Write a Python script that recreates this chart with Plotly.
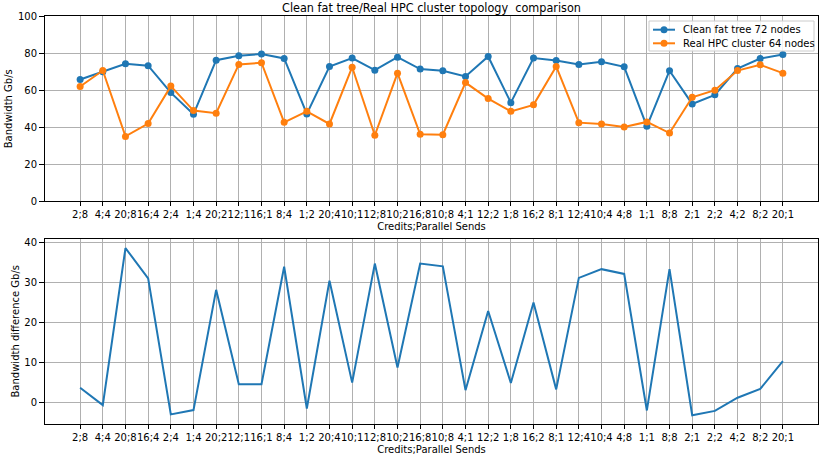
import plotly.graph_objects as go
from plotly.subplots import make_subplots

categories = ["2;8", "4;4", "20;8", "16;4", "2;4", "1;4", "20;2", "12;1", "16;1", "8;4",
              "1;2", "20;4", "10;1", "12;8", "10;2", "16;8", "10;8", "4;1", "12;2", "1;8",
              "16;2", "8;1", "12;4", "10;4", "4;8", "1;1", "8;8", "2;1", "2;2", "4;2",
              "8;2", "20;1"]

clean_fat_tree = [65.8, 69.9, 74.2, 73.2, 58.7, 47.0, 76.2, 78.6, 79.5, 77.1,
                  47.2, 72.8, 77.3, 70.8, 77.8, 71.4, 70.5, 67.4, 78.2, 53.3,
                  77.3, 76.0, 73.9, 75.3, 72.6, 40.5, 70.5, 52.6, 57.5, 71.7,
                  77.1, 79.3]

real_hpc = [62.0, 70.6, 35.1, 42.0, 62.2, 49.0, 47.6, 73.9, 74.8, 42.7,
            48.6, 41.8, 72.4, 35.7, 69.2, 36.2, 36.0, 64.1, 55.5, 48.6,
            52.1, 72.8, 42.5, 41.8, 40.2, 42.9, 36.9, 56.2, 60.0, 70.6,
            73.7, 69.2]

difference = [3.6, -0.75, 38.7, 31.1, -3.1, -2.0, 28.2, 4.5, 4.5, 34.0,
              -1.6, 30.5, 4.9, 34.8, 8.7, 34.8, 34.1, 3.0, 22.9, 4.8,
              25.0, 3.2, 31.2, 33.4, 32.2, -2.1, 33.4, -3.3, -2.2, 1.1,
              3.3, 10.3]

series_names = ["Clean fat tree 72 nodes", "Real HPC cluster 64 nodes"]
top_ticks = [0, 20, 40, 60, 80, 100]
bottom_ticks = [0, 10, 20, 30, 40]

BLUE = "#1f77b4"
ORANGE = "#ff7f0e"
FONT = "DejaVu Sans"

fig = make_subplots(rows=2, cols=1, vertical_spacing=0.0907)

xidx = list(range(len(categories)))

for vals, name, col in [(clean_fat_tree, series_names[0], BLUE),
                        (real_hpc, series_names[1], ORANGE)]:
    fig.add_trace(go.Scatter(x=xidx, y=vals, mode="lines+markers", name=name,
                             showlegend=False,
                             line=dict(color=col, width=2),
                             marker=dict(color=col, size=7, symbol="circle")),
                  row=1, col=1)
fig.add_trace(go.Scatter(x=xidx, y=difference, mode="lines",
                         showlegend=False,
                         line=dict(color=BLUE, width=2)),
              row=2, col=1)

xcommon = dict(tickmode="array", tickvals=xidx, ticktext=categories,
               range=[-1.55, len(categories) - 1 + 1.55], tickangle=0,
               automargin=False,
               showgrid=True, gridcolor="#b0b0b0", gridwidth=1,
               showline=True, linecolor="black", linewidth=1, mirror=True,
               ticks="outside", ticklen=4, tickcolor="black",
               tickfont=dict(size=10, color="black", family=FONT),
               zeroline=False,
               title=dict(text="Credits;Parallel Sends",
                          font=dict(size=10, color="black", family=FONT),
                          standoff=3))
ycommon = dict(showgrid=True, gridcolor="#b0b0b0", gridwidth=1,
               automargin=False,
               showline=True, linecolor="black", linewidth=1, mirror=True,
               ticks="outside", ticklen=5, tickcolor="black",
               tickfont=dict(size=10, color="black", family=FONT),
               zeroline=False)

fig.update_xaxes(**xcommon, row=1, col=1)
fig.update_xaxes(**xcommon, row=2, col=1)
fig.update_yaxes(**ycommon, range=[0, 100], tickvals=top_ticks,
                 title=dict(text="Bandwidth Gb/s",
                            font=dict(size=10, color="black", family=FONT),
                            standoff=3),
                 row=1, col=1)
fig.update_yaxes(**ycommon, range=[-5.5, 41.1], tickvals=bottom_ticks,
                 title=dict(text="Bandwidth difference Gb/s",
                            font=dict(size=10, color="black", family=FONT),
                            standoff=2),
                 row=2, col=1)

# manual legend (matplotlib-like, compact)
L, R, T, B = 45, 818, 16, 424
def px(x):
    return (x - L) / (R - L)
def py(y):
    return (B - y) / (B - T)

shapes = [dict(type="rect", xref="paper", yref="paper",
               x0=px(649), x1=px(814), y0=py(51), y1=py(21),
               fillcolor="rgba(255,255,255,0.85)",
               line=dict(color="#cccccc", width=1), layer="above")]
annotations = []
for i, (name, col) in enumerate(zip(series_names, [BLUE, ORANGE])):
    yy = py(29.7 + i * 13.6)
    shapes.append(dict(type="line", xref="paper", yref="paper",
                       x0=px(653), x1=px(675), y0=yy, y1=yy,
                       line=dict(color=col, width=2), layer="above"))
    shapes.append(dict(type="circle", xref="paper", yref="paper",
                       xsizemode="pixel", ysizemode="pixel",
                       xanchor=px(664), yanchor=yy,
                       x0=-3.5, x1=3.5, y0=-3.5, y1=3.5,
                       fillcolor=col, line=dict(color=col, width=0),
                       layer="above"))
    annotations.append(dict(xref="paper", yref="paper", x=px(681), y=yy,
                            xanchor="left", yanchor="middle", showarrow=False,
                            text=name, font=dict(size=10, color="black", family=FONT)))

fig.update_layout(
    width=831, height=458,
    margin=dict(l=45, r=13, t=16, b=34),
    paper_bgcolor="white", plot_bgcolor="white",
    font=dict(family=FONT, size=10, color="black"),
    title=dict(text="Clean fat tree/Real HPC cluster topology  comparison",
               x=0.5, xref="paper", xanchor="center",
               y=1 - 7.5 / 458, yref="container", yanchor="middle",
               font=dict(size=12.5, color="black", family="DejaVu Sans Condensed")),
    shapes=shapes,
    annotations=annotations,
    showlegend=False,
    hovermode=False,
)

fig.write_html("out.html",
               config={"displayModeBar": False, "staticPlot": True},
               post_script="document.body.style.margin='0';document.body.style.overflow='hidden';")
